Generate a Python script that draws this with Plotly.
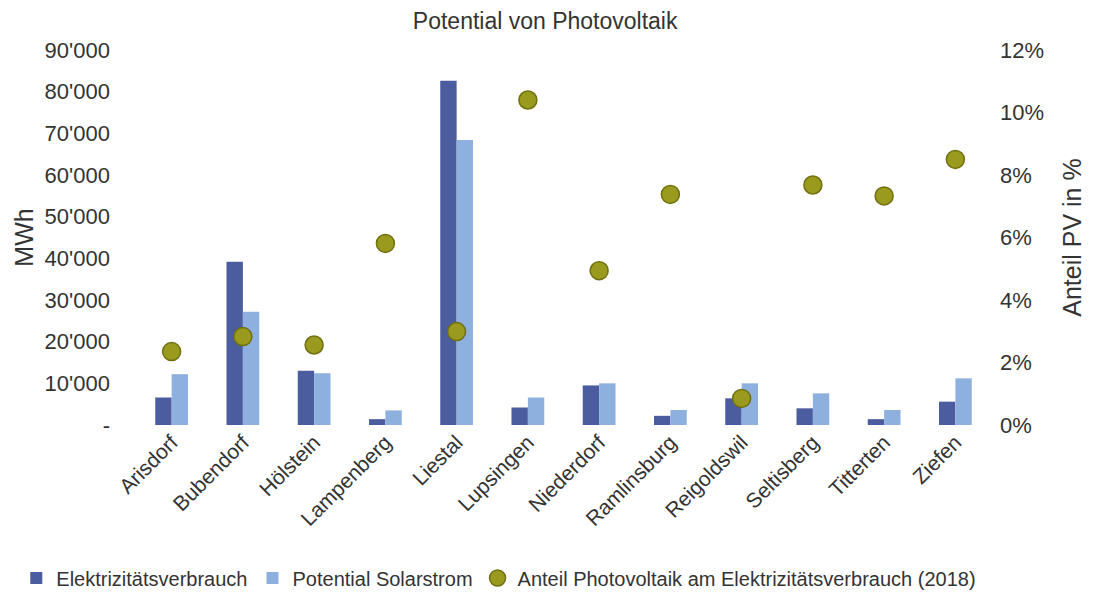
import plotly.graph_objects as go

gemeinden = ["Arisdorf", "Bubendorf", "Hölstein", "Lampenberg", "Liestal", "Lupsingen",
             "Niederdorf", "Ramlinsburg", "Reigoldswil", "Seltisberg", "Titterten", "Ziefen"]
verbrauch = [6600, 39200, 13000, 1400, 82600, 4200, 9500, 2200, 6400, 4000, 1400, 5600]
solar = [12200, 27200, 12400, 3500, 68400, 6600, 10000, 3600, 10000, 7600, 3600, 11200]
anteil_pv = [2.35, 2.83, 2.56, 5.81, 2.99, 10.4, 4.94, 7.38, 0.85, 7.68, 7.33, 8.5]

left_ticks = [0, 10000, 20000, 30000, 40000, 50000, 60000, 70000, 80000, 90000]
left_labels = ["-", "10'000", "20'000", "30'000", "40'000", "50'000", "60'000", "70'000", "80'000", "90'000"]
right_ticks = [0, 2, 4, 6, 8, 10, 12]
right_labels = ["0%", "2%", "4%", "6%", "8%", "10%", "12%"]

txt = "#333333"
fig = go.Figure()
fig.add_trace(go.Bar(x=gemeinden, y=verbrauch, name="Elektrizitätsverbrauch",
                     marker=dict(color="#4b5c9f", line=dict(width=0))))
fig.add_trace(go.Bar(x=gemeinden, y=solar, name="Potential Solarstrom",
                     marker=dict(color="#8eb0df", line=dict(width=0))))
fig.add_trace(go.Scatter(x=gemeinden, y=anteil_pv, yaxis="y2", mode="markers",
                         name="Anteil Photovoltaik am Elektrizitätsverbrauch (2018)",
                         marker=dict(size=18, color="#999a1e", line=dict(color="#707010", width=1.5))))

# the page adds an 8px body margin, so the figure is sized 1094x587
fig.update_layout(
    width=1094, height=587,
    paper_bgcolor="white", plot_bgcolor="white",
    font=dict(family="Liberation Sans, Arial, sans-serif", color=txt, size=22),
    title=dict(text="Potential von Photovoltaik", x=0.491, xanchor="center", y=0.978, yanchor="middle",
               font=dict(size=23, color=txt)),
    margin=dict(l=128, r=111, t=42, b=170, autoexpand=False),
    barmode="group", bargap=0.54, bargroupgap=0,
    xaxis=dict(range=[-0.5, 11.5], tickangle=-45, showgrid=False, showline=False, ticks="",
               tickfont=dict(size=21), automargin=False),
    yaxis=dict(range=[0, 90000], tickvals=left_ticks, ticktext=left_labels, showgrid=False,
               zeroline=False, ticklabelstandoff=25, automargin=False,
               title=dict(text="MWh", font=dict(size=25), standoff=3),
               tickfont=dict(size=22)),
    yaxis2=dict(range=[0, 12], tickvals=right_ticks, ticktext=right_labels, overlaying="y",
                side="right", showgrid=False, zeroline=False, ticklabelstandoff=8, automargin=False,
                title=dict(text="Anteil PV in %", font=dict(size=25), standoff=20),
                tickfont=dict(size=22)),
    legend=dict(orientation="h", x=-0.14, xanchor="left", y=-0.408, yanchor="middle",
                font=dict(size=20), itemwidth=30, tracegroupgap=0),
    showlegend=True,
)

fig.write_html("out.html")
